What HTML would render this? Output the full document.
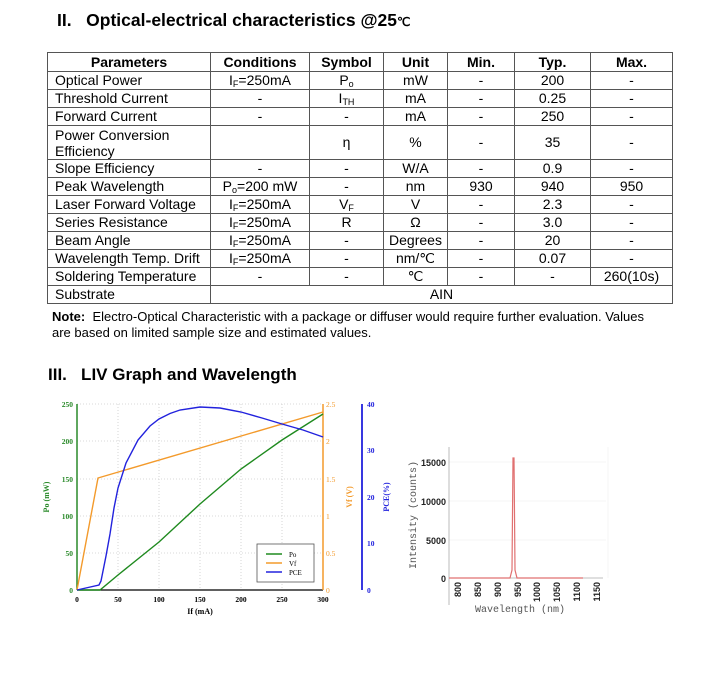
<!DOCTYPE html>
<html><head><meta charset="utf-8"><style>
body{margin:0;background:#fff;font-family:"Liberation Sans",Arial,sans-serif;}
#w{position:relative;width:704px;height:682px;overflow:hidden;}
.t{position:absolute;color:#000;white-space:nowrap;}
table{position:absolute;left:47px;top:52px;border-collapse:collapse;font-size:14px;table-layout:fixed;}
tr{height:18px;}
td{border:1px solid #555;padding:0 0 0 7px;height:17px;line-height:15px;color:#000;overflow:hidden;white-space:nowrap;}
td.c{text-align:center;padding:0;}
tr.h td{font-weight:bold;text-align:center;padding:0;height:18px;}
sub{font-size:9px;line-height:0;vertical-align:baseline;position:relative;top:2px;}
</style></head><body><div id="w">
<div class="t" style="left:57px;top:10px;font-size:17.5px;font-weight:bold;">II.&nbsp;&nbsp;&nbsp;Optical-electrical characteristics @25<span style="font-size:12px">℃</span></div>
<table>
<colgroup><col style="width:163px"><col style="width:99px"><col style="width:74px"><col style="width:64px"><col style="width:67px"><col style="width:76px"><col style="width:82px"></colgroup>
<tr class="h"><td>Parameters</td><td>Conditions</td><td>Symbol</td><td>Unit</td><td>Min.</td><td>Typ.</td><td>Max.</td></tr>
<tr><td>Optical Power</td><td class="c">I<sub>F</sub>=250mA</td><td class="c">P<sub>o</sub></td><td class="c">mW</td><td class="c">-</td><td class="c">200</td><td class="c">-</td></tr>
<tr><td>Threshold Current</td><td class="c">-</td><td class="c">I<sub>TH</sub></td><td class="c">mA</td><td class="c">-</td><td class="c">0.25</td><td class="c">-</td></tr>
<tr><td>Forward Current</td><td class="c">-</td><td class="c">-</td><td class="c">mA</td><td class="c">-</td><td class="c">250</td><td class="c">-</td></tr>
<tr style="height:34px"><td style="height:33px;line-height:16px;white-space:normal">Power Conversion<br>Efficiency</td><td class="c"></td><td class="c">η</td><td class="c">%</td><td class="c">-</td><td class="c">35</td><td class="c">-</td></tr>
<tr><td>Slope Efficiency</td><td class="c">-</td><td class="c">-</td><td class="c">W/A</td><td class="c">-</td><td class="c">0.9</td><td class="c">-</td></tr>
<tr><td>Peak Wavelength</td><td class="c">P<sub>o</sub>=200 mW</td><td class="c">-</td><td class="c">nm</td><td class="c">930</td><td class="c">940</td><td class="c">950</td></tr>
<tr><td>Laser Forward Voltage</td><td class="c">I<sub>F</sub>=250mA</td><td class="c">V<sub>F</sub></td><td class="c">V</td><td class="c">-</td><td class="c">2.3</td><td class="c">-</td></tr>
<tr><td>Series Resistance</td><td class="c">I<sub>F</sub>=250mA</td><td class="c">R</td><td class="c">Ω</td><td class="c">-</td><td class="c">3.0</td><td class="c">-</td></tr>
<tr><td>Beam Angle</td><td class="c">I<sub>F</sub>=250mA</td><td class="c">-</td><td class="c">Degrees</td><td class="c">-</td><td class="c">20</td><td class="c">-</td></tr>
<tr><td>Wavelength Temp. Drift</td><td class="c">I<sub>F</sub>=250mA</td><td class="c">-</td><td class="c">nm/℃</td><td class="c">-</td><td class="c">0.07</td><td class="c">-</td></tr>
<tr><td>Soldering Temperature</td><td class="c">-</td><td class="c">-</td><td class="c">℃</td><td class="c">-</td><td class="c">-</td><td class="c">260(10s)</td></tr>
<tr><td>Substrate</td><td class="c" colspan="6">AIN</td></tr>
</table>
<div class="t" style="left:52px;top:309px;font-size:13px;line-height:16px;"><b>Note:</b>&nbsp; Electro-Optical Characteristic with a package or diffuser would require further evaluation. Values<br>are based on limited sample size and estimated values.</div>
<div class="t" style="left:48px;top:365px;font-size:17px;font-weight:bold;">III.&nbsp;&nbsp;&nbsp;LIV Graph and Wavelength</div>

<svg style="position:absolute;left:0;top:0" width="704" height="682" font-family="Liberation Serif,serif">
<g stroke="#ccc" stroke-dasharray="1,2" stroke-width="0.8">
<line x1="118" y1="404" x2="118" y2="590"/><line x1="159" y1="404" x2="159" y2="590"/><line x1="200" y1="404" x2="200" y2="590"/><line x1="241" y1="404" x2="241" y2="590"/><line x1="282" y1="404" x2="282" y2="590"/>
<line x1="77" y1="553" x2="323" y2="553"/><line x1="77" y1="516" x2="323" y2="516"/><line x1="77" y1="479" x2="323" y2="479"/><line x1="77" y1="441" x2="323" y2="441"/><line x1="77" y1="404" x2="323" y2="404"/>
</g>
<line x1="77" y1="404" x2="77" y2="590" stroke="#2a8a2a" stroke-width="1.5"/>
<line x1="77" y1="590" x2="323" y2="590" stroke="#000" stroke-width="1.2"/>
<line x1="323" y1="404" x2="323" y2="590" stroke="#f39a2b" stroke-width="1.5"/>
<line x1="362" y1="404" x2="362" y2="590" stroke="#2222dd" stroke-width="1.8"/>
<g font-size="7.5" font-weight="bold" fill="#2a8a2a" text-anchor="end">
<text x="73" y="593">0</text><text x="73" y="556">50</text><text x="73" y="519">100</text><text x="73" y="482">150</text><text x="73" y="444">200</text><text x="73" y="407">250</text></g>
<g font-size="7.5" font-weight="bold" fill="#000" text-anchor="middle">
<text x="77" y="602">0</text><text x="118" y="602">50</text><text x="159" y="602">100</text><text x="200" y="602">150</text><text x="241" y="602">200</text><text x="282" y="602">250</text><text x="323" y="602">300</text>
<text x="200" y="614" font-size="8">If (mA)</text></g>
<g font-size="7.5" fill="#f39a2b"><text x="326" y="593">0</text><text x="326" y="556">0.5</text><text x="326" y="519">1</text><text x="326" y="482">1.5</text><text x="326" y="444">2</text><text x="326" y="407">2.5</text></g>
<g font-size="7.5" font-weight="bold" fill="#2222dd"><text x="367" y="593">0</text><text x="367" y="546">10</text><text x="367" y="500">20</text><text x="367" y="453">30</text><text x="367" y="407">40</text></g>
<text transform="translate(49,497) rotate(-90)" font-size="8" font-weight="bold" fill="#2a8a2a" text-anchor="middle">Po (mW)</text>
<text transform="translate(352,497) rotate(-90)" font-size="8" font-weight="bold" fill="#f39a2b" text-anchor="middle">Vf (V)</text>
<text transform="translate(389,497) rotate(-90)" font-size="8" font-weight="bold" fill="#2222dd" text-anchor="middle">PCE(%)</text>
<polyline fill="none" stroke="#1f8a1f" stroke-width="1.4" points="77,590 100,590 118,575 159,542 200,504 241,469 282,440 323,414"/>
<polyline fill="none" stroke="#f39a2b" stroke-width="1.4" points="77,590 98,478 323,412"/>
<polyline fill="none" stroke="#2222dd" stroke-width="1.4" points="77,590 99,585 101,581 106,556 110,534 114,508 118,488 126,463 138,440 150,426 159,419 170,413.5 180,410 200,407 220,408 241,412 262,418 282,424 303,430 323,437"/>
<rect x="257" y="544" width="57" height="38" fill="#fff" stroke="#555" stroke-width="0.8"/>
<g stroke-width="1.5"><line x1="266" y1="554" x2="282" y2="554" stroke="#1f8a1f"/><line x1="266" y1="563" x2="282" y2="563" stroke="#f39a2b"/><line x1="266" y1="572" x2="282" y2="572" stroke="#2222dd"/></g>
<g font-size="7" fill="#000"><text x="289" y="557">Po</text><text x="289" y="566">Vf</text><text x="289" y="575">PCE</text></g>

<g stroke="#eee" stroke-width="0.6"><line x1="449" y1="462" x2="606" y2="462"/><line x1="449" y1="501" x2="606" y2="501"/><line x1="449" y1="540" x2="606" y2="540"/><line x1="608" y1="447" x2="608" y2="578"/></g>
<line x1="449" y1="447" x2="449" y2="605" stroke="#aaa" stroke-width="0.8"/>
<line x1="449" y1="578" x2="603" y2="578" stroke="#aaa" stroke-width="0.8"/>
<polyline fill="none" stroke="#e07070" stroke-width="1.2" points="449,578 510,578 512,570 513,458 514,458 515,570 517,578 583,578"/>
<g font-family="Liberation Sans,sans-serif" font-size="9" font-weight="bold" fill="#222" text-anchor="end">
<text x="446" y="466">15000</text><text x="446" y="505">10000</text><text x="446" y="544">5000</text><text x="446" y="582">0</text></g>
<g font-family="Liberation Sans,sans-serif" font-size="9" font-weight="bold" fill="#222" text-anchor="end">
<text transform="translate(461,582) rotate(-90)">800</text><text transform="translate(481,582) rotate(-90)">850</text><text transform="translate(501,582) rotate(-90)">900</text><text transform="translate(521,582) rotate(-90)">950</text><text transform="translate(540,582) rotate(-90)">1000</text><text transform="translate(560,582) rotate(-90)">1050</text><text transform="translate(580,582) rotate(-90)">1100</text><text transform="translate(600,582) rotate(-90)">1150</text></g>
<text transform="translate(416,515) rotate(-90)" font-family="Liberation Mono,monospace" font-size="10" fill="#555" text-anchor="middle">Intensity (counts)</text>
<text x="520" y="612" font-family="Liberation Mono,monospace" font-size="10" fill="#555" text-anchor="middle">Wavelength (nm)</text>
</svg>
</div></body></html>
